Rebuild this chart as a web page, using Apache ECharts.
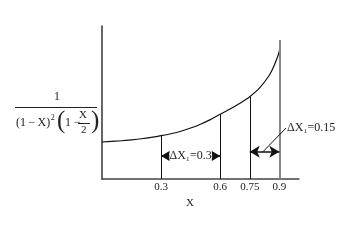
<!DOCTYPE html>
<html><head><meta charset="utf-8">
<script src="https://cdn.jsdelivr.net/npm/echarts@6/dist/echarts.min.js"></script>
<style>html,body{margin:0;padding:0;background:#fff}#c{width:350px;height:250px}</style>
</head><body><div id="c"></div>
<script>
const xTickLabels = [0.3, 0.6, 0.75, 0.9];
const curveX = [0, 0.05, 0.1, 0.15, 0.2, 0.25, 0.3, 0.35, 0.4, 0.45, 0.5, 0.55, 0.6, 0.65, 0.7, 0.75, 0.8, 0.85, 0.875, 0.9, 0.905];
const curveY = [2.42, 2.46, 2.5, 2.56, 2.63, 2.72, 2.83, 2.96, 3.12, 3.33, 3.58, 3.88, 4.23, 4.57, 4.95, 5.38, 5.95, 6.8, 7.45, 8.35, 9.08];
const dropX = [0.3, 0.6, 0.75, 0.9];
const dropY = [2.83, 4.23, 5.38, 9.08];
const arrowA = [0.3, 0.6, 1.5];      // from, to, height
const arrowB = [0.75, 0.9, 1.78];
const leader = [0.817, 1.78, 0.934, 3.33];
const labelA = 'ΔX₁=0.3';
const labelB = 'ΔX₁=0.15';

const SERIF = '"Liberation Serif","DejaVu Serif",serif';
const chart = echarts.init(document.getElementById('c'), null, {renderer: 'canvas'});

const dropLines = dropX.map((x, i) => [
  {coord: [x, 0], lineStyle: {color: i === 3 ? '#888' : '#111', width: i === 3 ? 2 : 1, type: 'solid'}},
  {coord: [x, dropY[i]]}
]);
const arrowStyle = {color: '#111', width: 1.5, type: 'solid'};

const cv = document.createElement('canvas').getContext('2d');
cv.font = '12px ' + SERIF;
const denomText = '(1\u2009−\u2009X)';
const denomW = cv.measureText(denomText).width;

chart.setOption({
  animation: false,
  grid: {left: 102, top: 26, width: 197, height: 153},
  xAxis: {
    type: 'value', min: 0, max: 1.0,
    axisLine: {lineStyle: {color: '#444', width: 1.5}},
    axisTick: {show: false},
    splitLine: {show: false},
    axisLabel: {customValues: xTickLabels, formatter: v => String(v), color: '#222',
      fontFamily: SERIF, fontSize: 11, margin: 3},
    name: 'X', nameLocation: 'middle', nameGap: 15,
    nameTextStyle: {fontFamily: SERIF, fontSize: 11, color: '#222', padding: [0, 0, 0, -21]}
  },
  yAxis: {
    type: 'value', min: 0, max: 10,
    axisLine: {show: true, lineStyle: {color: '#333', width: 1.5}},
    axisTick: {show: false}, axisLabel: {show: false}, splitLine: {show: false}
  },
  series: [{
    type: 'line',
    data: curveX.map((x, i) => [x, curveY[i]]),
    smooth: 0.3,
    symbol: 'none',
    lineStyle: {color: '#111', width: 1.2},
    markLine: {
      silent: true, symbol: 'none',
      label: {show: false},
      data: dropLines.concat([
        [{coord: [arrowA[0], arrowA[2]], symbol: 'arrow', symbolSize: [9, 10], lineStyle: arrowStyle},
         {coord: [arrowA[1], arrowA[2]], symbol: 'arrow', symbolSize: [9, 10]}],
        [{coord: [arrowB[0], arrowB[2]], symbol: 'arrow', symbolSize: [9, 10], lineStyle: arrowStyle},
         {coord: [arrowB[1], arrowB[2]], symbol: 'arrow', symbolSize: [9, 10]}],
        [{coord: [leader[0], leader[1]], lineStyle: {color: '#111', width: 1, type: 'solid'}},
         {coord: [leader[2], leader[3]]}]
      ])
    },
    markPoint: {
      silent: true, symbol: 'circle', symbolSize: 0,
      data: [
        {coord: [(arrowA[0] + arrowA[1]) / 2, arrowA[2]],
          label: {show: true, position: 'inside', formatter: labelA, fontFamily: SERIF, fontSize: 12,
            color: '#222', backgroundColor: '#fff', padding: [1, 0]}},
        {coord: [leader[2], leader[3]],
          label: {show: true, position: 'right', distance: 1, formatter: labelB,
            fontFamily: SERIF, fontSize: 12, color: '#222'}}
      ]
    }
  }],
  graphic: [
    {type: 'text', left: 54, top: 91, style: {text: '1', font: '12px ' + SERIF, fill: '#222'}},
    {type: 'line', shape: {x1: 15, y1: 107.5, x2: 97, y2: 107.5}, style: {stroke: '#222', lineWidth: 1}},
    {type: 'text', left: 16, top: 117, style: {text: denomText, font: '12px ' + SERIF, fill: '#222'}},
    {type: 'text', left: 16 + denomW + 0.5, top: 114, style: {text: '2', font: '8px ' + SERIF, fill: '#222'}},
    {type: 'text', left: 57, top: 109, style: {text: '(', font: '25px ' + SERIF, fill: '#222'}},
    {type: 'text', left: 65, top: 117, style: {text: '1 −', font: '12px ' + SERIF, fill: '#222'}},
    {type: 'text', left: 79, top: 110, style: {text: 'X', font: '11px ' + SERIF, fill: '#222'}},
    {type: 'line', shape: {x1: 78, y1: 123.5, x2: 90, y2: 123.5}, style: {stroke: '#222', lineWidth: 1}},
    {type: 'text', left: 81, top: 125, style: {text: '2', font: '11px ' + SERIF, fill: '#222'}},
    {type: 'text', left: 91, top: 109, style: {text: ')', font: '25px ' + SERIF, fill: '#222'}}
  ]
});
</script></body></html>
